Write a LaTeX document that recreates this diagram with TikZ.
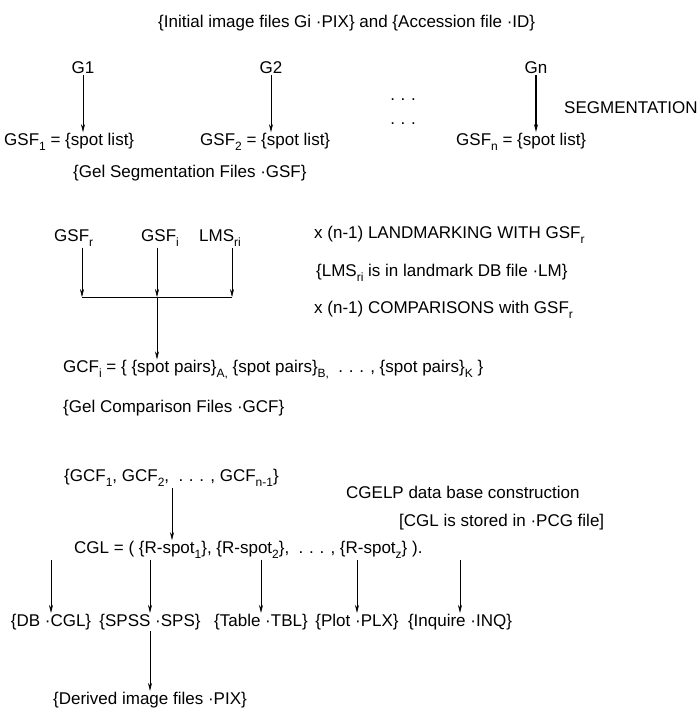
\documentclass[tikz,border=0pt]{standalone}
\usepackage{fontspec}
\setmainfont{Liberation Sans}
\usetikzlibrary{positioning,arrows.meta}

\newcommand{\lowidx}[1]{\raisebox{-0.55ex}{\fontsize{12}{12}\selectfont #1}}

\tikzset{
  lbl/.style={anchor=west, inner sep=1pt},
  tag/.style={inner sep=1pt},
  flow/.style={-{Stealth[length=8pt,width=4pt]}, line width=0.6pt},
  boldflow/.style={flow, line width=1.3pt},
}

\begin{document}
\begin{tikzpicture}[x=1pt,y=-1pt,font=\fontsize{17}{20}\selectfont]
  \useasboundingbox (0,0) rectangle (700,710);

  % image files and segmentation
  \node[lbl] (init) at (157,23) {\{Initial image files Gi ·PIX\} and \{Accession file ·ID\}};
  \node[tag] (g1) at (83,68) {G1};
  \node[tag] (g2) at (271,68) {G2};
  \node[tag] (gn) at (536,68) {Gn};
  \node[tag] (dotsa) at (403,100) {.\,\,.\,\,.};
  \node[tag] (dotsb) at (403,124) {.\,\,.\,\,.};
  \node[lbl] (segm) at (563,108) {SEGMENTATION};
  \node[lbl] (gsfa) at (3,142) {GSF\lowidx{1} = \{spot list\}};
  \node[lbl] (gsfb) at (199,142) {GSF\lowidx{2} = \{spot list\}};
  \node[lbl] (gsfn) at (455,142) {GSF\lowidx{n} = \{spot list\}};
  \node[lbl] (gsffiles) at (72,173) {\{Gel Segmentation Files ·GSF\}};
  \draw[flow] (g1) -- (g1 |- gsfa.north);
  \draw[flow] (g2) -- (g2 |- gsfb.north);
  \draw[boldflow] (gn) -- (gn |- gsfn.north);

  % landmarking and comparison
  \node[lbl] (gsfr) at (53,238) {GSF\lowidx{r}};
  \node[lbl] (gsfi) at (140,238) {GSF\lowidx{i}};
  \node[lbl] (lms) at (198,238) {LMS\lowidx{ri}};
  \node[lbl] (landm) at (313,235) {x (n-1) LANDMARKING WITH GSF\lowidx{r}};
  \node[lbl] (lmdb) at (315,273) {\{LMS\lowidx{ri} is in landmark DB file ·LM\}};
  \node[lbl] (compar) at (313,310) {x (n-1) COMPARISONS with GSF\lowidx{r}};
  \coordinate (ja) at (82,297);
  \coordinate (jb) at (157,297);
  \coordinate (jc) at (232,297);
  \draw[flow] (gsfr.south -| ja) -- (ja);
  \draw[flow] (gsfi.south -| jb) -- (jb);
  \draw[flow] (lms.south -| jc) -- (jc);
  \draw[line width=0.6pt] (ja) -- (jc);
  \node[lbl] (gcfi) at (62,370) {GCF\lowidx{i} = \{ \{spot pairs\}\lowidx{A,} \{spot pairs\}\lowidx{B,} \ .\,\,.\,\,. , \{spot pairs\}\lowidx{K} \}};
  \node[lbl] (gcffiles) at (62,408) {\{Gel Comparison Files ·GCF\}};
  \draw[flow] (jb) -- (jb |- gcfi.north);

  % data base construction
  \node[lbl] (gcfset) at (63,478) {\{GCF\lowidx{1}, GCF\lowidx{2}, \ .\,\,.\,\,. , GCF\lowidx{n-1}\}};
  \node[lbl] (cgelp) at (345,492) {CGELP data base construction};
  \node[lbl] (stored) at (398,522) {[CGL is stored in ·PCG file]};
  \node[lbl] (cgl) at (73,550) {CGL = ( \{R-spot\lowidx{1}\}, \{R-spot\lowidx{2}\}, \ .\,\,.\,\,. , \{R-spot\lowidx{z}\} ).};
  \draw[flow] (gcfset.south -| 172,0) -- (cgl.north -| 172,0);

  % outputs
  \node[tag] (db) at (51,622) {\{DB ·CGL\}};
  \node[tag] (spss) at (150,622) {\{SPSS ·SPS\}};
  \node[tag] (table) at (261,622) {\{Table ·TBL\}};
  \node[tag] (plot) at (357,622) {\{Plot ·PLX\}};
  \node[tag] (inq) at (460,622) {\{Inquire ·INQ\}};
  \node[tag] (derived) at (150,700) {\{Derived image files ·PIX\}};
  \foreach \out in {db,spss,table,plot,inq}
    \draw[flow] (cgl.south -| \out) -- (\out);
  \draw[flow] (spss) -- (derived);
\end{tikzpicture}
\end{document}
